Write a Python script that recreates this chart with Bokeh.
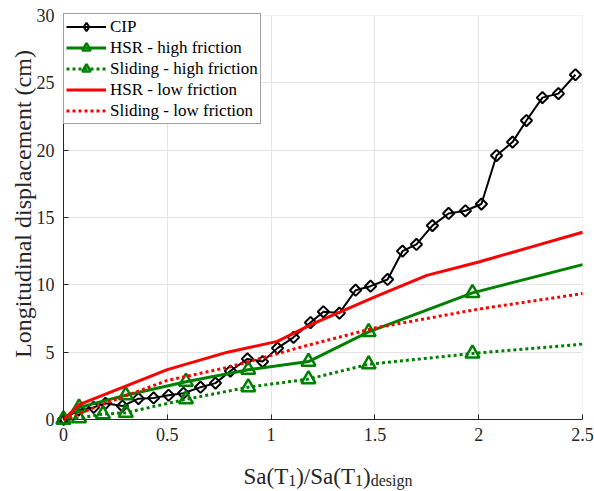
import math
from bokeh.plotting import figure
from bokeh.models import (FixedTicker, Label, Legend, CustomJSTickFormatter,
                          BoxAnnotation, Range1d)
from bokeh.embed import file_html
from bokeh.resources import INLINE

# ---- data ----
cip_x = [0, 0.072, 0.145, 0.202, 0.284, 0.361, 0.434, 0.506, 0.578, 0.66, 0.732,
         0.804, 0.886, 0.959, 1.031, 1.108, 1.19, 1.252, 1.329, 1.407, 1.479,
         1.561, 1.633, 1.70, 1.777, 1.855, 1.936, 2.013, 2.086, 2.163, 2.23,
         2.307, 2.384, 2.466]
cip_y = [0, 0.7, 0.9, 1.2, 1.0, 1.55, 1.6, 1.8, 1.95, 2.4, 2.7, 3.6, 4.5, 4.3,
         5.3, 6.1, 7.2, 8.0, 7.9, 9.6, 9.9, 10.4, 12.5, 13.0, 14.4, 15.3, 15.5,
         16.0, 19.6, 20.6, 22.2, 23.9, 24.2, 25.6]

hsr_hi_x = [0, 0.075, 0.30, 0.59, 0.89, 1.18, 1.47, 1.97, 2.5]
hsr_hi_y = [0, 0.9, 1.8, 2.8, 3.7, 4.3, 6.5, 9.4, 11.5]

sl_hi_x = [0, 0.075, 0.19, 0.30, 0.59, 0.89, 1.18, 1.47, 1.97, 2.5]
sl_hi_y = [0, 0.1, 0.4, 0.5, 1.5, 2.4, 3.0, 4.1, 4.9, 5.6]

hsr_lo_x = [0, 0.075, 0.5, 0.79, 1.03, 1.2, 1.5, 1.75, 2.0, 2.25, 2.5]
hsr_lo_y = [0, 1.1, 3.7, 5.0, 5.8, 7.1, 9.1, 10.7, 11.7, 12.8, 13.9]

sl_lo_x = [0, 0.075, 0.15, 0.5, 0.8, 1.15, 1.5, 2.0, 2.5]
sl_lo_y = [0, 0.4, 0.9, 2.9, 3.9, 5.4, 6.8, 8.2, 9.35]

x_ticks = [0, 0.5, 1, 1.5, 2, 2.5]
x_tick_labels = ["0", "0.5", "1", "1.5", "2", "2.5"]
y_ticks = [0, 5, 10, 15, 20, 25, 30]
y_tick_labels = ["0", "5", "10", "15", "20", "25", "30"]

FONT = "Liberation Serif"
AX = "#262626"
GREEN = "#008000"
RED = "#ff0000"

# The frame covers the whole canvas; the axes sit at x=0 / y=0 inside it.
# plot box: x 0..2.5 -> 63..582 px, y 0..30 -> 419..15 px
PX_PER_X = 519 / 2.5
PX_PER_Y = 404 / 30.0
X_LO, X_HI = -63 / PX_PER_X, (594 - 63) / PX_PER_X
Y_LO, Y_HI = -(491 - 419) / PX_PER_Y, 30 + 15 / PX_PER_Y

p = figure(width=594, height=491, output_backend="svg", toolbar_location=None,
           x_range=Range1d(X_LO, X_HI), y_range=Range1d(Y_LO, Y_HI),
           min_border=0, min_border_left=0, min_border_right=0,
           min_border_top=0, min_border_bottom=0)
p.outline_line_color = None
p.background_fill_color = "white"
p.border_fill_color = "white"

for ax, ticks, labels in ((p.xaxis[0], x_ticks, x_tick_labels),
                          (p.yaxis[0], y_ticks, y_tick_labels)):
    ax.ticker = FixedTicker(ticks=ticks)
    ax.formatter = CustomJSTickFormatter(args=dict(labels=labels),
                                         code="return labels[index];")
p.xaxis.fixed_location = 0
p.yaxis.fixed_location = 0
p.xaxis.bounds = (0, 2.5)
p.yaxis.bounds = (0, 30)
p.axis.major_label_text_font = FONT
p.axis.major_label_text_font_size = "18px"
p.axis.major_label_text_color = AX
p.axis.axis_line_color = AX
p.axis.major_tick_line_color = AX
p.axis.major_tick_in = 5
p.axis.major_tick_out = 0
p.axis.minor_tick_line_color = None
p.xaxis.major_label_standoff = 8
p.yaxis.major_label_standoff = 9

p.grid.grid_line_color = "#e3e3e3"
p.grid.grid_line_width = 1
# keep the grid inside the plot box
for kw in (dict(top=0), dict(bottom=30), dict(right=0), dict(left=2.5)):
    p.add_layout(BoxAnnotation(fill_color="white", fill_alpha=1,
                               line_color=None, level="underlay", **kw))

# CIP
r_cip_l = p.line(cip_x, cip_y, line_color="black", line_width=2)
p.scatter(cip_x, cip_y, marker="square", angle=math.pi / 4, size=8,
          line_color="black", line_width=2, fill_alpha=0)
r_cip_leg = p.scatter(cip_x[:1], cip_y[:1], marker="diamond", size=10,
                      line_color="black", line_width=2, fill_alpha=0)
# HSR high
r_hh_l = p.line(hsr_hi_x, hsr_hi_y, line_color=GREEN, line_width=3)
r_hh_m = p.scatter(hsr_hi_x[:-1], hsr_hi_y[:-1], marker="triangle", size=14,
                   line_color=GREEN, line_width=2.5, fill_alpha=0)
# Sliding high
r_sh_l = p.line(sl_hi_x, sl_hi_y, line_color=GREEN, line_width=3, line_dash="3 3")
r_sh_m = p.scatter(sl_hi_x[:-1], sl_hi_y[:-1], marker="triangle", size=14,
                   line_color=GREEN, line_width=2.5, fill_alpha=0)
# HSR low
r_hl = p.line(hsr_lo_x, hsr_lo_y, line_color=RED, line_width=3)
# Sliding low
r_sl = p.line(sl_lo_x, sl_lo_y, line_color=RED, line_width=3, line_dash="3 3")

LEG_H = 2 * 2 + 5 * 21
legend = Legend(items=[
    ("CIP", [r_cip_l, r_cip_leg]),
    ("HSR - high friction", [r_hh_l, r_hh_m]),
    ("Sliding - high friction", [r_sh_l, r_sh_m]),
    ("HSR - low friction", [r_hl]),
    ("Sliding - low friction", [r_sl]),
], location=(63, 491 - 15 - LEG_H))
legend.margin = 0
legend.padding = 2
legend.spacing = 0
legend.label_height = 21
legend.glyph_height = 21
legend.glyph_width = 40
legend.label_standoff = 4
legend.label_text_font = FONT
legend.label_text_font_size = "17px"
legend.label_text_color = "black"
legend.border_line_color = "#444444"
legend.border_line_width = 1
legend.background_fill_alpha = 1
p.add_layout(legend)

# y axis label
p.add_layout(Label(x=(22 - 63) / PX_PER_X, y=16.0, text="Longitudinal displacement (cm)",
                   angle=math.pi / 2, text_align="center", text_baseline="middle",
                   text_font=FONT, text_font_size="24px", text_color=AX))

# x axis label with subscripts
base_y = (419 - 476) / PX_PER_Y
sub_y = (419 - 480) / PX_PER_Y
x0 = (243 - 63) / PX_PER_X
pieces = [("Sa(T", 0, base_y, "23px"), ("1", 44.7, sub_y, "16px"),
          (")/Sa(T", 52.7, base_y, "23px"), ("1", 111.5, sub_y, "16px"),
          (")", 119.5, base_y, "23px"), ("design", 127.2, sub_y, "16px")]
for txt, off, yy, fs in pieces:
    p.add_layout(Label(x=x0, y=yy, x_offset=off, text=txt, text_align="left",
                       text_baseline="alphabetic", text_font=FONT,
                       text_font_size=fs, text_color=AX))

open("out.html", "w").write(file_html(p, INLINE))
